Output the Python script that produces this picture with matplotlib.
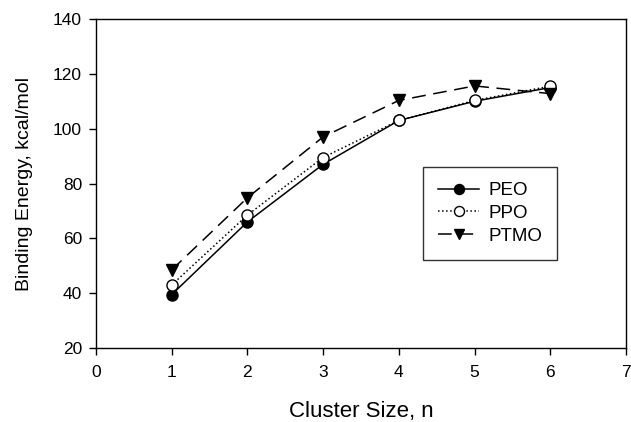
import matplotlib
matplotlib.use("Agg")
import matplotlib.pyplot as plt

plt.rcParams["font.family"] = ["Liberation Sans", "DejaVu Sans"]

n = [1, 2, 3, 4, 5, 6]
peo = [39.5, 66, 87, 103, 110, 115]
ppo = [43, 68.5, 89.5, 103, 110.3, 115.5]
ptmo = [48.5, 74.8, 97, 110.3, 115.6, 112.8]

fig = plt.figure(figsize=(6.31, 4.22), dpi=100)
ax = fig.add_axes([0.152, 0.175, 0.840, 0.780])

ax.plot(n, peo, "-", color="black", lw=1.1, marker="o", ms=8,
        mfc="black", mec="black", label="PEO")
ax.plot(n, ppo, ":", color="black", lw=1.1, marker="o", ms=8,
        mfc="white", mec="black", label="PPO")
ax.plot(n, ptmo, color="black", lw=1.1, dashes=(9, 5), marker="v", ms=8,
        mfc="black", mec="black", label="PTMO")

ax.set_xlim(0, 7)
ax.set_ylim(20, 140)
ax.set_xticks(range(0, 8))
ax.set_yticks(range(20, 141, 20))
ax.tick_params(direction="out", length=5, width=1, labelsize=12.5, top=False, right=False)
ax.tick_params(axis="x", pad=7)
ax.tick_params(axis="y", pad=5)
for s in ax.spines.values():
    s.set_linewidth(1)

ax.set_xlabel("Cluster Size, n", fontsize=16)
ax.set_ylabel("Binding Energy, kcal/mol", fontsize=14)
ax.xaxis.set_label_coords(0.5, -0.16)
ax.yaxis.set_label_coords(-0.118, 0.5)

leg = ax.legend(loc="upper left", bbox_to_anchor=(0.617, 0.55), borderaxespad=0,
                fontsize=13.5, frameon=True, fancybox=False, edgecolor="black",
                handlelength=2.2, handletextpad=0.5, borderpad=0.8,
                labelspacing=0.3, markerscale=0.9)
leg.get_frame().set_linewidth(1)

fig.savefig("out.png", dpi=100)
